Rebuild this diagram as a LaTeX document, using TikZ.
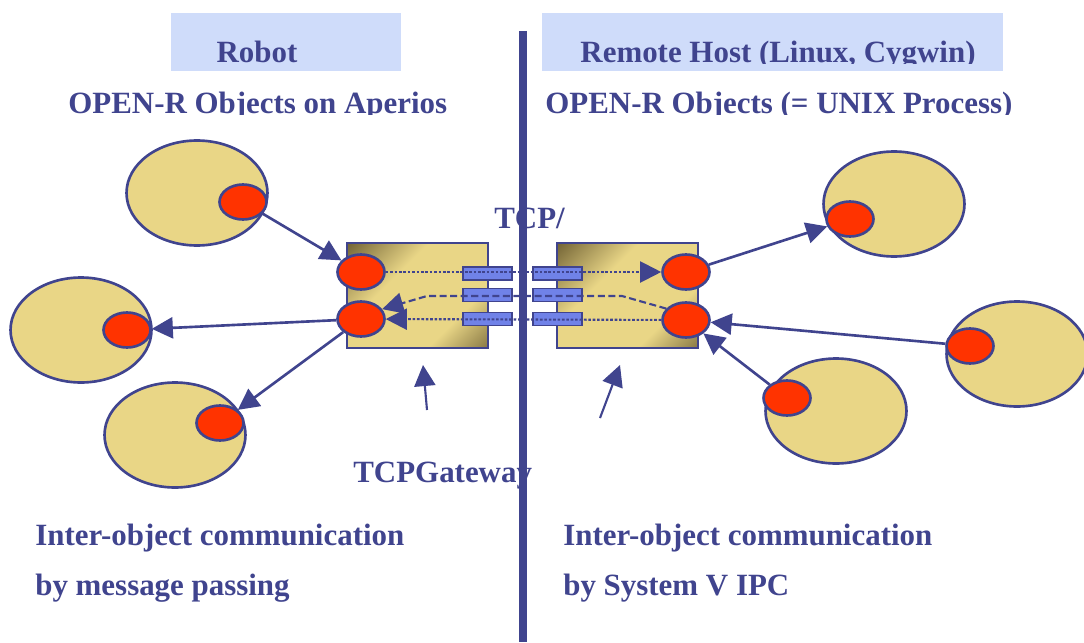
\documentclass[tikz,border=0pt]{standalone}
\usepackage{fontspec}
\setmainfont{Liberation Serif}
\usetikzlibrary{shapes.geometric,arrows.meta}
\definecolor{navy}{RGB}{64,68,142}
\definecolor{sand}{RGB}{233,214,134}
\definecolor{olive}{RGB}{112,97,52}
\definecolor{portred}{RGB}{255,51,0}
\definecolor{sky}{RGB}{207,220,250}
\definecolor{pipeblue}{RGB}{112,130,232}
\pgfdeclarehorizontalshading{gateshade}{100bp}{color(0bp)=(olive); color(14bp)=(olive); color(38bp)=(sand); color(68bp)=(sand); color(90bp)=(olive); color(100bp)=(olive)}
\tikzset{
  obj/.style={ellipse,draw=navy,fill=sand,line width=1.5pt,minimum width=2.82cm,minimum height=2.1cm},
  port/.style={ellipse,draw=navy,fill=portred,line width=1.5pt,minimum width=0.94cm,minimum height=0.7cm,inner sep=0pt},
  gate/.style={draw=navy,line width=1.5pt,shade,shading=gateshade,shading angle=-45,minimum width=2.82cm,minimum height=2.1cm},
  pipe/.style={draw=navy,fill=pipeblue,line width=1pt,minimum width=0.98cm,minimum height=0.26cm,inner sep=0pt},
  link/.style={navy,line width=1.5pt,-{Triangle[length=12pt,width=12pt]}},
  flow/.style={navy,line width=1.2pt,dash pattern=on 1.5pt off 1pt,-{Triangle[length=12pt,width=12pt]}},
  label/.style={anchor=base west,inner sep=0pt}
}
\begin{document}
\begin{tikzpicture}[x=0.02cm,y=-0.02cm,font=\fontsize{17.6}{21}\selectfont\bfseries,text=navy]
\useasboundingbox(0,0)rectangle(1084,642);
\fill[sky](171,13)rectangle(401,71);\fill[sky](542,13)rectangle(1003,71);
\begin{scope}
  \clip(0,0)rectangle(1084,64);
  \node[anchor=base,inner sep=0pt](robot)at(257,63){Robot};
  \node[anchor=base,inner sep=0pt](host)at(778,63){Remote Host (Linux, Cygwin)};
\end{scope}
\begin{scope}
  \clip(0,72)rectangle(1084,114);
  \node[label](aperios)at(68,113){OPEN-R Objects on Aperios};
  \node[label](unix)at(545,113){OPEN-R Objects (= UNIX Process)};
\end{scope}
% objects on the robot side
\node[obj](o1)at(197,193){};\node[port](p1)at(243,202){};
\node[obj](o2)at(81,330){};\node[port](p2)at(127,330){};
\node[obj](o3)at(175,435){};\node[port](p3)at(220,423){};
% objects on the remote host
\node[obj](o4)at(894,204){};\node[port](p4)at(850,219){};
\node[obj](o5)at(1017,354){};\node[port](p5)at(970,346){};
\node[obj](o6)at(836,411){};\node[port](p6)at(787,398){};
% the two gateways
\node[gate](gwl)at(417.5,295.5){};\node[gate](gwr)at(627.5,295.5){};
\node[pipe](l1)at(487.5,273.5){};\node[pipe](l2)at(487.5,295){};\node[pipe](l3)at(487.5,319){};
\node[pipe](r1)at(557.5,273.5){};\node[pipe](r2)at(557.5,295){};\node[pipe](r3)at(557.5,319){};
\node[port](gl1)at(361,272){};\node[port](gl2)at(361,319){};
\node[port](gr1)at(686,272){};\node[port](gr2)at(686,320){};
\draw[flow](gl1)--(gr1);\draw[flow](gr2)--(gl2);
\draw[flow,dash pattern=on 4pt off 2pt](gr2.150)--(622,296)--(427,296)--(gl2.25);
\draw[link](p1)--(gl1);\draw[link](gl2)--(p2);\draw[link](gl2)--(p3);
\draw[link](gr1)--(p4);\draw[link](p5)--(gr2);\draw[link](p6)--(gr2);
\coordinate(tl)at(427,410);\coordinate(hl)at(423,365);
\coordinate(tr)at(600,418);\coordinate(hr)at(620,365);
\draw[link,line width=1.2pt](tl)--(hl);\draw[link,line width=1.2pt](tr)--(hr);
\node[label](tcp)at(494,228){TCP/};
\node[label](gateway)at(353,482){TCPGateway};
\node[label](left1)at(35,545){Inter-object communication};
\node[label](left2)at(35,595){by message passing};
\node[label](right1)at(563,545){Inter-object communication};
\node[label](right2)at(563,595){by System V IPC};
\draw[navy,line width=0.16cm](523,31)--(523,642);
\end{tikzpicture}
\end{document}
